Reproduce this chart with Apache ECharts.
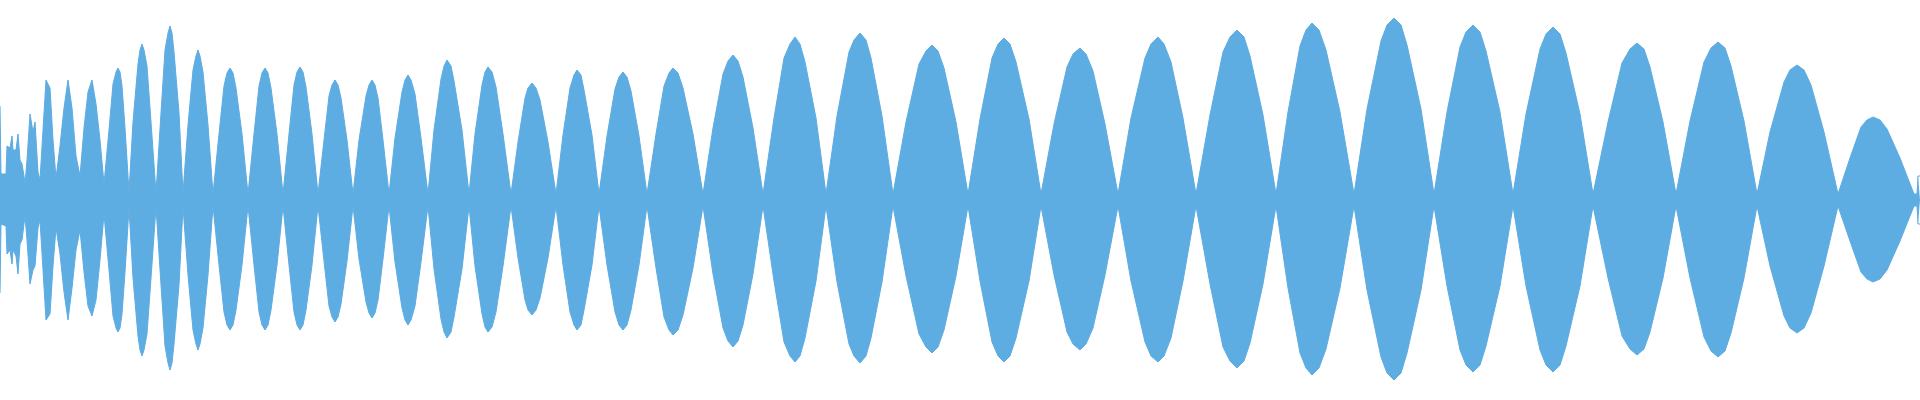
<!DOCTYPE html>
<html>
<head>
<meta charset="utf-8">
<script src="https://cdn.jsdelivr.net/npm/echarts@6/dist/echarts.min.js"></script>
<style>
  html, body { margin: 0; padding: 0; background: #fff; }
  #chart { width: 1920px; height: 400px; }
</style>
</head>
<body>
<div id="chart"></div>
<script>
// Waveform envelope (amplitude normalised to 1)
const time = [
  0, 1, 6, 7, 10, 12, 13, 16, 18, 20, 22, 24, 25, 27, 30, 33, 35, 38, 40,
  43, 46, 50, 53, 56, 60, 64, 68, 72, 76, 80, 84, 88, 92, 96, 100,
  104, 109, 113, 116, 118, 120, 122, 125,
  129, 133, 138, 140, 142, 144, 147, 151,
  156, 161, 165, 168, 170, 172, 174, 179,
  183, 188, 193, 196, 198, 200, 203, 208,
  213, 219, 224, 227, 230, 233, 236, 242,
  248, 254, 259, 262, 265, 268, 271, 277,
  283, 289, 294, 297, 300, 303, 306, 312,
  318, 324, 329, 332, 335, 338, 341, 347,
  353, 359, 366, 369, 372, 375, 378, 383,
  389, 395, 402, 405, 408, 411, 415, 421,
  428, 434, 441, 444, 447, 451, 454, 462,
  469, 475, 482, 485, 488, 492, 496, 503,
  511, 518, 525, 528, 532, 536, 540, 548,
  556, 563, 570, 574, 577, 581, 584, 592,
  599, 607, 615, 619, 623, 627, 631, 639,
  647, 656, 664, 669, 673, 678, 683, 693,
  703, 713, 723, 728, 733, 738, 743, 753,
  763, 774, 784, 790, 795, 800, 805, 816,
  826, 837, 849, 854, 860, 866, 871, 882,
  893, 906, 919, 926, 932, 938, 944, 956,
  968, 980, 992, 998, 1004, 1010, 1016, 1029,
  1041, 1054, 1067, 1073, 1080, 1086, 1093, 1105,
  1118, 1131, 1145, 1151, 1158, 1164, 1171, 1183,
  1196, 1210, 1223, 1230, 1237, 1244, 1250, 1263,
  1276, 1288, 1300, 1306, 1312, 1319, 1326, 1340,
  1354, 1367, 1381, 1387, 1394, 1401, 1407, 1421,
  1434, 1447, 1460, 1466, 1473, 1480, 1486, 1500,
  1513, 1526, 1540, 1546, 1553, 1560, 1566, 1580,
  1593, 1608, 1622, 1630, 1637, 1644, 1650, 1663,
  1676, 1690, 1704, 1711, 1718, 1725, 1731, 1744,
  1757, 1770, 1784, 1790, 1797, 1804, 1811, 1824,
  1838, 1850, 1861, 1867, 1873, 1880, 1887, 1900,
  1914, 1917, 1918, 1920
];

const upper = [
  0.47, 0.13, 0.13, 0.27, 0.26, 0.32, 0.25, 0.25, 0.33, 0.2, 0.18, 0.12, 0.08, 0.2, 0.43, 0.34, 0.39, 0.14, 0.1,
  0.35, 0.6, 0.56, 0.3, 0.11, 0.27, 0.46, 0.6, 0.46, 0.22, 0.12, 0.36, 0.54, 0.6, 0.48, 0.3,
  0.08, 0.35, 0.58, 0.64, 0.66, 0.64, 0.57, 0.36,
  0.04, 0.39, 0.68, 0.75, 0.78, 0.75, 0.67, 0.39,
  0.035, 0.435, 0.75, 0.835, 0.87, 0.835, 0.74, 0.435,
  0.035, 0.375, 0.65, 0.72, 0.75, 0.72, 0.64, 0.375,
  0.03, 0.33, 0.57, 0.635, 0.66, 0.635, 0.56, 0.33,
  0.03, 0.33, 0.57, 0.635, 0.66, 0.635, 0.56, 0.33,
  0.03, 0.33, 0.575, 0.64, 0.665, 0.64, 0.565, 0.33,
  0.03, 0.3, 0.52, 0.575, 0.6, 0.575, 0.51, 0.3,
  0.03, 0.3, 0.52, 0.575, 0.6, 0.575, 0.51, 0.3,
  0.03, 0.31, 0.54, 0.6, 0.625, 0.6, 0.53, 0.31,
  0.03, 0.35, 0.605, 0.67, 0.7, 0.67, 0.595, 0.35,
  0.03, 0.33, 0.575, 0.64, 0.665, 0.64, 0.565, 0.33,
  0.03, 0.29, 0.51, 0.56, 0.585, 0.56, 0.5, 0.29,
  0.03, 0.325, 0.56, 0.625, 0.65, 0.625, 0.55, 0.325,
  0.03, 0.32, 0.555, 0.615, 0.64, 0.615, 0.545, 0.32,
  0.03, 0.33, 0.57, 0.635, 0.66, 0.635, 0.56, 0.33,
  0.03, 0.36, 0.63, 0.695, 0.725, 0.695, 0.615, 0.36,
  0.03, 0.41, 0.71, 0.78, 0.815, 0.78, 0.69, 0.41,
  0.03, 0.42, 0.74, 0.8, 0.835, 0.8, 0.71, 0.42,
  0.03, 0.39, 0.68, 0.745, 0.775, 0.745, 0.66, 0.39,
  0.03, 0.405, 0.71, 0.78, 0.81, 0.78, 0.69, 0.405,
  0.03, 0.38, 0.665, 0.73, 0.76, 0.73, 0.645, 0.38,
  0.03, 0.41, 0.71, 0.78, 0.815, 0.78, 0.69, 0.41,
  0.03, 0.425, 0.74, 0.815, 0.85, 0.815, 0.72, 0.425,
  0.03, 0.44, 0.77, 0.85, 0.885, 0.85, 0.75, 0.44,
  0.03, 0.455, 0.795, 0.875, 0.91, 0.875, 0.775, 0.455,
  0.03, 0.44, 0.765, 0.84, 0.875, 0.84, 0.745, 0.44,
  0.03, 0.43, 0.755, 0.83, 0.865, 0.83, 0.735, 0.43,
  0.03, 0.39, 0.685, 0.755, 0.785, 0.755, 0.665, 0.39,
  0.03, 0.395, 0.69, 0.76, 0.79, 0.76, 0.67, 0.395,
  0.03, 0.34, 0.59, 0.65, 0.675, 0.65, 0.575, 0.34,
  0.03, 0.21, 0.365, 0.4, 0.415, 0.4, 0.355, 0.21,
  0.03, 0.03, 0.12, 0.12
];

const lower = [
  -0.465, -0.12, -0.13, -0.27, -0.25, -0.32, -0.25, -0.28, -0.37, -0.22, -0.2, -0.12, -0.08, -0.2, -0.42, -0.35, -0.33, -0.14, -0.1,
  -0.35, -0.6, -0.57, -0.33, -0.14, -0.27, -0.46, -0.6, -0.44, -0.25, -0.15, -0.36, -0.53, -0.58, -0.5, -0.3,
  -0.07, -0.35, -0.58, -0.64, -0.66, -0.64, -0.57, -0.36,
  -0.04, -0.39, -0.68, -0.75, -0.78, -0.75, -0.67, -0.39,
  -0.035, -0.425, -0.73, -0.815, -0.85, -0.815, -0.72, -0.425,
  -0.035, -0.375, -0.65, -0.72, -0.75, -0.72, -0.64, -0.375,
  -0.03, -0.325, -0.56, -0.625, -0.65, -0.625, -0.55, -0.325,
  -0.03, -0.325, -0.56, -0.625, -0.65, -0.625, -0.55, -0.325,
  -0.03, -0.325, -0.56, -0.625, -0.65, -0.625, -0.55, -0.325,
  -0.03, -0.305, -0.53, -0.585, -0.61, -0.585, -0.52, -0.305,
  -0.03, -0.295, -0.51, -0.565, -0.59, -0.565, -0.5, -0.295,
  -0.03, -0.31, -0.54, -0.6, -0.625, -0.6, -0.53, -0.31,
  -0.03, -0.345, -0.595, -0.66, -0.69, -0.66, -0.585, -0.345,
  -0.03, -0.33, -0.57, -0.635, -0.66, -0.635, -0.56, -0.33,
  -0.03, -0.29, -0.5, -0.55, -0.575, -0.55, -0.49, -0.29,
  -0.03, -0.325, -0.56, -0.625, -0.65, -0.625, -0.55, -0.325,
  -0.03, -0.325, -0.56, -0.625, -0.65, -0.625, -0.55, -0.325,
  -0.03, -0.34, -0.585, -0.65, -0.675, -0.65, -0.575, -0.34,
  -0.03, -0.37, -0.64, -0.705, -0.735, -0.705, -0.625, -0.37,
  -0.03, -0.405, -0.71, -0.78, -0.81, -0.78, -0.69, -0.405,
  -0.03, -0.41, -0.72, -0.78, -0.815, -0.78, -0.69, -0.41,
  -0.03, -0.38, -0.67, -0.735, -0.765, -0.735, -0.65, -0.38,
  -0.03, -0.405, -0.71, -0.78, -0.81, -0.78, -0.69, -0.405,
  -0.03, -0.375, -0.66, -0.72, -0.75, -0.72, -0.64, -0.375,
  -0.03, -0.405, -0.71, -0.78, -0.81, -0.78, -0.69, -0.405,
  -0.03, -0.42, -0.735, -0.805, -0.84, -0.805, -0.715, -0.42,
  -0.03, -0.44, -0.765, -0.84, -0.875, -0.84, -0.745, -0.44,
  -0.03, -0.45, -0.785, -0.865, -0.9, -0.865, -0.765, -0.45,
  -0.03, -0.43, -0.75, -0.825, -0.86, -0.825, -0.73, -0.43,
  -0.03, -0.43, -0.75, -0.825, -0.86, -0.825, -0.73, -0.43,
  -0.03, -0.39, -0.68, -0.745, -0.775, -0.745, -0.66, -0.39,
  -0.03, -0.39, -0.685, -0.755, -0.785, -0.755, -0.665, -0.39,
  -0.03, -0.33, -0.58, -0.64, -0.665, -0.64, -0.565, -0.33,
  -0.03, -0.205, -0.36, -0.395, -0.41, -0.395, -0.35, -0.205,
  -0.03, -0.03, -0.12, -0.12
];

const WAVE_COLOR = '#5DACE2';

const chart = echarts.init(document.getElementById('chart'), null, { renderer: 'canvas' });

const envelope = (values) => ({
  type: 'line',
  data: time.map((t, i) => [t, values[i]]),
  symbol: 'none',
  smooth: false,
  silent: true,
  lineStyle: { width: 1, color: WAVE_COLOR },
  areaStyle: { color: WAVE_COLOR, opacity: 1 }
});

chart.setOption({
  animation: false,
  backgroundColor: '#ffffff',
  grid: { left: 0, right: 0, top: 0, bottom: 0 },
  xAxis: { type: 'value', min: 0, max: 1920, show: false },
  yAxis: { type: 'value', min: -1, max: 1, show: false },
  series: [envelope(upper), envelope(lower)]
});

window.addEventListener('resize', () => chart.resize());
</script>
</body>
</html>
